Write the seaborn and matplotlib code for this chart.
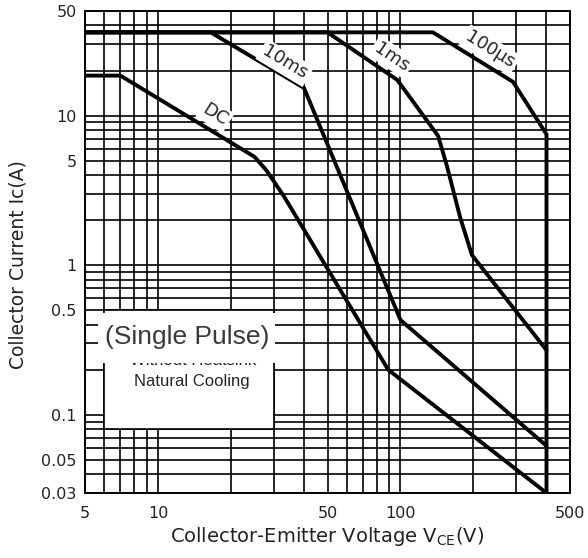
"""
Safe operating area chart: collector current vs collector-emitter voltage (log-log).
"""

import numpy as np
import pandas as pd
import matplotlib
matplotlib.use("Agg")
import matplotlib.pyplot as plt
from matplotlib.patches import Rectangle
from matplotlib.ticker import LogLocator, NullFormatter
import seaborn as sns

sns.set_style("white")
plt.rcParams['font.family'] = ['DejaVu Sans']

# curve data (V, A)
dc_v = [5, 7, 25, 28, 33, 89, 400]
dc_i = [18.5, 18.5, 5.3, 4.3, 2.9, 0.2, 0.03]

ms10_v = [5, 16.5, 40, 100, 400]
ms10_i = [36, 36, 15.3, 0.43, 0.062]

ms1_v = [5, 50, 97, 143, 156, 176, 197, 400]
ms1_i = [36, 36, 17.3, 7.3, 4.5, 2.1, 1.17, 0.27]

us100_v = [5, 136, 291, 400, 400]
us100_i = [36, 36, 16.8, 7.5, 0.03]

x_ticks = [5, 10, 50, 100, 500]
x_labels = ['5', '10', '50', '100', '500']
y_ticks = [0.03, 0.05, 0.1, 0.5, 1, 5, 10, 50]
y_labels = ['0.03', '0.05', '0.1', '0.5', '1', '5', '10', '50']

curves = {'DC': (dc_v, dc_i), '10ms': (ms10_v, ms10_i),
          '1ms': (ms1_v, ms1_i), '100µs': (us100_v, us100_i)}
rows = []
for name, (vs, cs) in curves.items():
    for k, (v, c) in enumerate(zip(vs, cs)):
        rows.append({'curve': name, 'order': k, 'V': v, 'I': c})
df = pd.DataFrame(rows)

fig = plt.figure(figsize=(5.88, 5.58), dpi=100)
ax = fig.add_axes([85 / 588, 1 - 493 / 558, 485 / 588, 482 / 558])
ax.set_xscale('log')
ax.set_yscale('log')

sns.lineplot(data=df, x='V', y='I', hue='curve', units='curve', estimator=None,
             sort=False, palette=['black'] * 4, linewidth=2.8, legend=False,
             ax=ax, zorder=6)

ax.set_xlim(5, 500)
ax.set_ylim(0.03, 50)
ax.set_xticks(x_ticks, x_labels)
ax.set_yticks(y_ticks, y_labels)
ax.xaxis.set_minor_locator(LogLocator(base=10, subs=np.arange(1, 10), numticks=20))
ax.yaxis.set_minor_locator(LogLocator(base=10, subs=np.arange(1, 10), numticks=20))
ax.xaxis.set_minor_formatter(NullFormatter())
ax.yaxis.set_minor_formatter(NullFormatter())
ax.tick_params(which='both', length=0, labelsize=11.5, colors='#222222')
ax.tick_params(axis='x', pad=9)
ax.tick_params(axis='y', pad=6)
ax.grid(which='both', color='black', linewidth=1.2)
ax.set_axisbelow(True)
for s in ax.spines.values():
    s.set_color('black')
    s.set_linewidth(1.4)
ax.set_xlabel('')
ax.set_ylabel('')

# curve labels with white boxes over the grid
lab_box = dict(boxstyle='square,pad=0.15', facecolor='white', edgecolor='none')
ax.text(17.2, 10.1, 'DC', rotation=-32, ha='center', va='center', fontsize=13,
        bbox=lab_box, zorder=7)
ax.text(33.4, 22.5, '10ms', rotation=-31, ha='center', va='center', fontsize=13,
        bbox=lab_box, zorder=7)
ax.text(92, 24.6, '1ms', rotation=-34, ha='center', va='center', fontsize=13,
        bbox=lab_box, zorder=7)
ax.text(234, 27.4, '100µs', rotation=-32, ha='center', va='center', fontsize=13,
        bbox=lab_box, zorder=7)

# note box
ax.add_patch(Rectangle((6, 0.08), 24, 0.42, facecolor='white', edgecolor='black',
                       linewidth=1.2, zorder=3))
ax.text(0.2227, 0.2745, 'Without Heatsink', transform=ax.transAxes, ha='center',
        va='center', fontsize=12, family='Liberation Sans', zorder=4)
ax.text(0.2206, 0.2303, 'Natural Cooling', transform=ax.transAxes, ha='center',
        va='center', fontsize=12, family='Liberation Sans', zorder=4)
ax.add_patch(Rectangle((5.66, 0.222), 30.3 - 5.66, 0.48 - 0.222, facecolor='white',
                       edgecolor='none', zorder=5))
ax.text(0.2103, 0.3237, '(Single Pulse)', transform=ax.transAxes, ha='center',
        va='center', fontsize=19, family='Liberation Sans', color='#3a3a3a', zorder=6)

fig.text(327 / 588, 1 - 537 / 558, 'Collector-Emitter Voltage V$_{\\mathregular{CE}}$(V)',
         ha='center', va='center', fontsize=14, color='#222222')
fig.text(18 / 588, 1 - 265 / 558, 'Collector Current Ic(A)', rotation=90,
         ha='center', va='center', fontsize=13.5, color='#222222')

fig.savefig('out.png', dpi=100)
